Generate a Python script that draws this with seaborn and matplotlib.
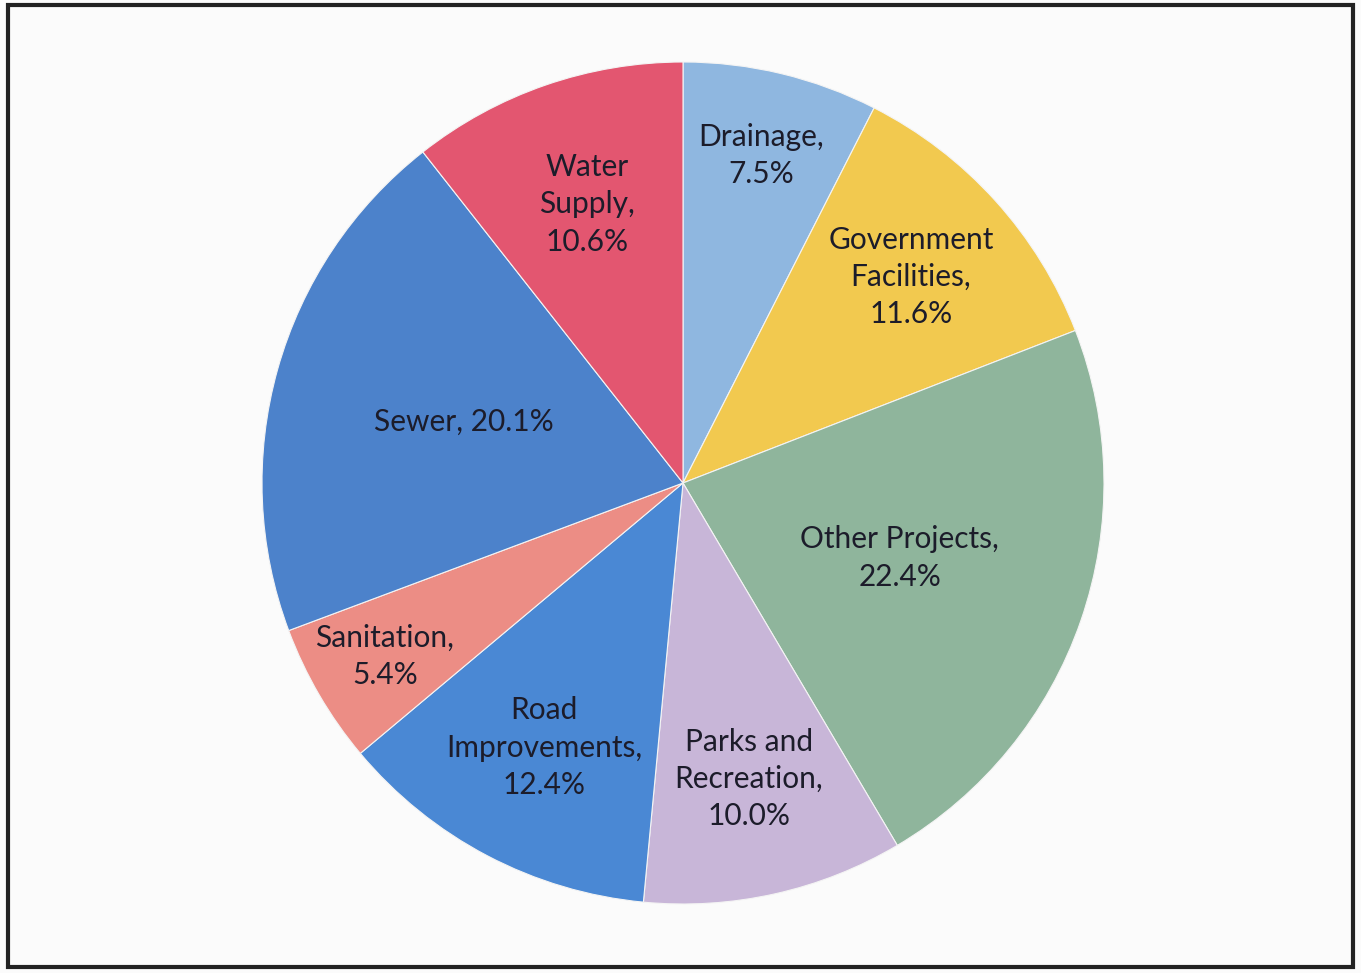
import numpy as np
import seaborn as sb
import matplotlib
matplotlib.use("Agg")
import matplotlib.pyplot as plt
from matplotlib.patches import Rectangle

# slice data, clockwise from 12 o'clock
names = ["Drainage", "Government\nFacilities", "Other Projects", "Parks and\nRecreation",
         "Road\nImprovements", "Sanitation", "Sewer", "Water\nSupply"]
pct = [7.5, 11.6, 22.4, 10.0, 12.4, 5.4, 20.1, 10.6]
colours = ["#8fb7e0", "#f2c94f", "#8fb59c", "#c8b6d8", "#4a88d4", "#ec8d85", "#4c82cb", "#e35670"]

sb.set_theme(style="white")
plt.rcParams["font.family"] = ["Lato", "DejaVu Sans"]

fig = plt.figure(figsize=(13.61, 9.73), dpi=100)
fig.patch.set_facecolor("#fbfbfb")

ax = fig.add_axes([262/1361, 69/973, 842/1361, 842/973])
ax.set_facecolor("none")

# Sewer label sits on one line, the rest break before the value
labels = [f"{n}, {p:.1f}%" if n == "Sewer" else f"{n},\n{p:.1f}%" for n, p in zip(names, pct)]

wedges, texts = ax.pie(pct, labels=labels, colors=colours, startangle=90, counterclock=False,
                       radius=1, labeldistance=0.6,
                       wedgeprops=dict(edgecolor="#f4f4f4", linewidth=0.8),
                       textprops=dict(fontsize=21.5, color="#1c1c2a", ha="center", va="center",
                                      linespacing=1.4))

# label distance per slice (best-fit style placement)
dist = [0.80, 0.73, 0.545, 0.72, 0.71, 0.82, 0.54, 0.70]
for w, t, d in zip(wedges, texts, dist):
    a = np.deg2rad((w.theta1 + w.theta2) / 2)
    t.set_position((d * np.cos(a), d * np.sin(a)))
    t.set_horizontalalignment("center")
    t.set_verticalalignment("center")

ax.set_xlim(-1, 1)
ax.set_ylim(-1, 1)
ax.set_aspect("equal")
ax.axis("off")

fig.add_artist(Rectangle((8/1361, 6/973), 1345/1361, 962/973, transform=fig.transFigure,
                         fill=False, edgecolor="#222222", linewidth=3))

fig.savefig("out.png", dpi=100)
